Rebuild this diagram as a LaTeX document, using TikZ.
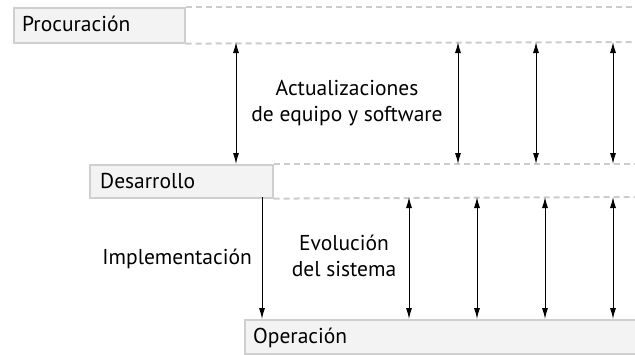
\documentclass[tikz,border=0pt]{standalone}
\usepackage{fontspec}
\setmainfont{PT Sans}
\usetikzlibrary{arrows.meta}
\definecolor{boxfill}{HTML}{F3F3F3}
\definecolor{boxline}{HTML}{CFCFCF}
\definecolor{dashcol}{HTML}{CCCCCC}
\begin{document}
\begin{tikzpicture}[x=1pt,y=-1pt,
  phase/.style={draw=boxline,line width=1.6pt,fill=boxfill,inner sep=0pt,anchor=north west},
  guide/.style={draw=dashcol,line width=2pt,dash pattern=on 6pt off 4pt},
  lbl/.style={font=\fontsize{21.5}{25.5}\selectfont,inner sep=0pt,align=center},
  arr/.style={line width=1pt,-{Latex[length=11pt,width=6pt]}},
  darr/.style={line width=1pt,{Latex[length=11pt,width=6pt]}-{Latex[length=11pt,width=6pt]}}]
\useasboundingbox (0,0) rectangle (635,354);
% boxes
\node[phase,minimum width=171pt,minimum height=35pt] (proc) at (13,7) {};
\node[lbl,anchor=base west] (proct) at (22,31) {Procuración};
\node[phase,minimum width=183pt,minimum height=33pt] (des) at (89,164) {};
\node[lbl,anchor=base west] (dest) at (100,188) {Desarrollo};
\node[phase,minimum width=400pt,minimum height=34pt] (op) at (244,319) {};
\node[lbl,anchor=base west] (opt) at (253,343) {Operación};
% guides
\coordinate (pne) at (635,7);
\coordinate (pse) at (635,42);
\coordinate (dne) at (635,164);
\coordinate (dse) at (635,197);
\draw[guide] (proc.north east) -- (pne);
\draw[guide] (proc.south east) -- (pse);
\draw[guide] (des.north east) -- (dne);
\draw[guide] (des.south east) -- (dse);
% upper arrows
\foreach \x/\n in {236/a,458/b,536/c,613/d}{
  \coordinate (u\n t) at (\x,42);
  \coordinate (u\n b) at (\x,164);
  \draw[darr] (u\n t) -- (u\n b);
}
% lower arrows
\foreach \x/\n in {409/a,477/b,545/c,613/d}{
  \coordinate (l\n t) at (\x,197);
  \coordinate (l\n b) at (\x,319);
  \draw[darr] (l\n t) -- (l\n b);
}
\coordinate (impt) at (262,197);
\coordinate (impb) at (262,319);
\draw[arr] (impt) -- (impb);
% labels
\node[lbl,anchor=base] (act) at (347,121) {Actualizaciones\\de equipo y software};
\node[lbl,anchor=base east] (imp) at (252,264) {Implementación};
\node[lbl,anchor=base] (evo) at (344,276) {Evolución\\del sistema};
\end{tikzpicture}
\end{document}
